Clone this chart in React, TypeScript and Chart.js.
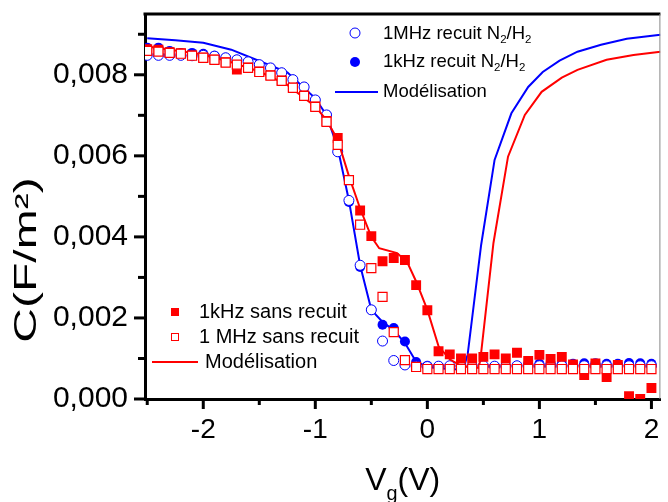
import React, { useEffect, useRef } from 'react';
import { Chart, registerables } from 'chart.js';

Chart.register(...registerables);

const FONT = "'Liberation Sans', Arial, sans-serif";
const BLUE = '#0000ff';
const RED = '#ff0000';

// gate voltage grid (V)
const VOLTS = [
  -2.5, -2.4, -2.3, -2.2, -2.1, -2.0, -1.9, -1.8, -1.7, -1.6,
  -1.5, -1.4, -1.3, -1.2, -1.1, -1.0, -0.9, -0.8, -0.7, -0.6,
  -0.5, -0.4, -0.3, -0.2, -0.1, 0.0, 0.1, 0.2, 0.3, 0.4,
  0.5, 0.6, 0.7, 0.8, 0.9, 1.0, 1.1, 1.2, 1.3, 1.4,
  1.5, 1.6, 1.7, 1.8, 1.9, 2.0,
];

// 1MHz recuit N2/H2 (open blue circles)
const C_1MHZ_RECUIT = [
  0.00848, 0.00848, 0.00848, 0.00848, 0.00847, 0.00848, 0.00846, 0.00842, 0.00837, 0.00832,
  0.00825, 0.00817, 0.00805, 0.00788, 0.0077, 0.00738, 0.00701, 0.0061, 0.0049, 0.0033,
  0.0022, 0.00143, 0.00095, 0.00084, 0.00081, 0.0008, 0.00081, 0.00082, 0.00081, 0.00081,
  0.00082, 0.00081, 0.00081, 0.00082, 0.00082, 0.00082, 0.00082, 0.00082, 0.00082, 0.00082,
  0.00082, 0.00082, 0.00082, 0.00082, 0.00082, 0.00082,
];

// 1kHz recuit N2/H2 (filled blue circles)
const C_1KHZ_RECUIT = [
  0.00867, 0.00867, 0.00859, 0.00854, 0.00854, 0.00852, 0.00847, 0.00842, 0.00837, 0.00832,
  0.00825, 0.00817, 0.00805, 0.00788, 0.0077, 0.00738, 0.00701, 0.0061, 0.00486, 0.00326,
  0.0022, 0.00183, 0.00175, 0.00142, 0.00091, 0.00082, 0.0008, 0.0008, 0.0008, 0.0008,
  0.0008, 0.0008, 0.0008, 0.00082, 0.00087, 0.00087, 0.00088, 0.00087, 0.00087, 0.00088,
  0.00088, 0.00087, 0.00087, 0.00089, 0.00088, 0.00087,
];

// 1kHz sans recuit (filled red squares)
const C_1KHZ_SANS = [
  0.00863, 0.00862, 0.00856, 0.00853, 0.00848, 0.00843, 0.00838, 0.00831, 0.00813, 0.00818,
  0.00808, 0.00799, 0.00786, 0.00769, 0.00749, 0.00722, 0.00686, 0.00644, 0.0054, 0.00465,
  0.00402, 0.0034, 0.00348, 0.00343, 0.00281, 0.00219, 0.00118, 0.0011, 0.001, 0.001,
  0.00104, 0.0011, 0.001, 0.00114, 0.00094, 0.00109, 0.00099, 0.00104, 0.00085, 0.00059,
  0.00088, 0.00054, 0.00084, 0.00007, 0.0, 0.00027,
];

// 1 MHz sans recuit (open red squares)
const C_1MHZ_SANS = [
  0.00859, 0.00857, 0.00854, 0.00852, 0.00847, 0.00842, 0.00837, 0.0083, 0.00825, 0.00817,
  0.00807, 0.00798, 0.00785, 0.00768, 0.00748, 0.00721, 0.00684, 0.00627, 0.0054, 0.0043,
  0.00323, 0.00252, 0.00165, 0.00096, 0.00079, 0.00074, 0.00074, 0.00074, 0.00074, 0.00074,
  0.00074, 0.00074, 0.00074, 0.00074, 0.00074, 0.00074, 0.00074, 0.00074, 0.00074, 0.00074,
  0.00074, 0.00074, 0.00074, 0.00074, 0.00074, 0.00074,
];

// Modélisation (recuit) - blue curve
const MODEL_BLUE_V = [
  -2.5, -2.25, -2.0, -1.75, -1.5, -1.25, -1.0, -0.9, -0.8, -0.7, -0.6, -0.5, -0.4, -0.3,
  -0.2, -0.1, 0.0, 0.1, 0.2, 0.32, 0.36, 0.48, 0.6, 0.75, 0.9, 1.03, 1.18, 1.34, 1.55, 1.78, 2.08,
];
const MODEL_BLUE_C = [
  0.0089, 0.00885, 0.00879, 0.00862, 0.00834, 0.00806, 0.00742, 0.007, 0.0062, 0.0049, 0.0033,
  0.0022, 0.0019, 0.0017, 0.00138, 0.00092, 0.0008, 0.00076, 0.00074, 0.00072, 0.0011, 0.0038,
  0.0059, 0.00705, 0.0077, 0.00807, 0.00835, 0.00857, 0.00874, 0.00889, 0.00899,
];

// Modélisation (sans recuit) - red curve
const MODEL_RED_V = [
  -2.5, -2.25, -2.0, -1.75, -1.5, -1.25, -1.0, -0.9, -0.8, -0.7, -0.6, -0.5, -0.43, -0.27,
  -0.18, -0.1, 0.0, 0.1, 0.2, 0.3, 0.4, 0.46, 0.48, 0.59, 0.72, 0.87, 1.02, 1.2, 1.34, 1.6,
  1.84, 2.08,
];
const MODEL_RED_C = [
  0.0087, 0.0086, 0.0085, 0.00831, 0.00808, 0.00775, 0.00722, 0.00688, 0.0064, 0.0055, 0.0047,
  0.004, 0.00372, 0.0036, 0.00338, 0.0029, 0.0022, 0.0013, 0.00098, 0.00082, 0.00077, 0.00077,
  0.00114, 0.00385, 0.00598, 0.00701, 0.00758, 0.00793, 0.00812, 0.00837, 0.00849, 0.00857,
];

const X_MAJOR = [-2, -1, 0, 1, 2];
const X_MINOR = [-2.5, -1.5, -0.5, 0.5, 1.5];
const Y_MAJOR = [0, 0.002, 0.004, 0.006, 0.008];
const Y_MINOR = [0.001, 0.003, 0.005, 0.007, 0.009];

const pts = (xs: number[], ys: number[]) => xs.map((x, i) => ({ x, y: ys[i] }));

type Part = { t: string; sub?: boolean; sup?: boolean };

function drawRich(ctx: CanvasRenderingContext2D, parts: Part[], x: number, y: number, size: number) {
  let cx = x;
  for (const p of parts) {
    const s = p.sub || p.sup ? size * 0.62 : size;
    ctx.font = `${s}px ${FONT}`;
    const dy = p.sub ? size * 0.3 : p.sup ? -size * 0.35 : 0;
    ctx.fillText(p.t, cx, y + dy);
    cx += ctx.measureText(p.t).width;
  }
  return cx;
}

const overlay = {
  id: 'overlay',
  afterDraw(chart: any) {
    const ctx: CanvasRenderingContext2D = chart.ctx;
    const ca = chart.chartArea;
    const xs = chart.scales.x;
    const ys = chart.scales.y;
    ctx.save();
    // frame
    ctx.strokeStyle = '#000';
    ctx.lineWidth = 3;
    ctx.beginPath();
    ctx.moveTo(ca.left - 1.5, ca.top);
    ctx.lineTo(ca.right, ca.top);
    ctx.stroke();
    ctx.strokeStyle = '#888';
    ctx.lineWidth = 1;
    ctx.beginPath();
    ctx.moveTo(ca.right - 0.5, ca.top);
    ctx.lineTo(ca.right - 0.5, ca.bottom);
    ctx.stroke();
    // ticks
    ctx.strokeStyle = '#000';
    ctx.lineWidth = 3;
    const tick = (x1: number, y1: number, x2: number, y2: number) => {
      ctx.beginPath();
      ctx.moveTo(x1, y1);
      ctx.lineTo(x2, y2);
      ctx.stroke();
    };
    X_MAJOR.forEach((v) => { const p = xs.getPixelForValue(v); tick(p, ca.bottom, p, ca.bottom + 10); });
    X_MINOR.forEach((v) => { const p = xs.getPixelForValue(v); tick(p, ca.bottom, p, ca.bottom + 6); });
    Y_MAJOR.forEach((v) => { const p = ys.getPixelForValue(v); tick(ca.left, p, ca.left - 11, p); });
    Y_MINOR.forEach((v) => { const p = ys.getPixelForValue(v); tick(ca.left, p, ca.left - 7, p); });

    // axis titles
    ctx.fillStyle = '#000';
    ctx.textBaseline = 'alphabetic';
    ctx.textAlign = 'left';
    const xt: Part[] = [{ t: 'V' }, { t: 'g', sub: true }, { t: '(V)' }];
    let w = 0;
    xt.forEach((p) => {
      ctx.font = `${p.sub ? 32 * 0.62 : 32}px ${FONT}`;
      w += ctx.measureText(p.t).width;
    });
    drawRich(ctx, xt, (ca.left + ca.right) / 2 - w / 2, 490, 32);

    ctx.save();
    ctx.translate(36, 260);
    ctx.rotate(-Math.PI / 2);
    ctx.scale(1.55, 1);
    ctx.textAlign = 'center';
    ctx.font = `31px ${FONT}`;
    ctx.fillText('C(F/m²)', 0, 0);
    ctx.restore();

    // top legend
    ctx.textAlign = 'left';
    ctx.textBaseline = 'middle';
    const tl = 18.5;
    ctx.lineWidth = 1;
    ctx.strokeStyle = BLUE;
    ctx.fillStyle = '#fff';
    ctx.beginPath(); ctx.arc(355, 33, 5, 0, Math.PI * 2); ctx.fill(); ctx.stroke();
    ctx.fillStyle = BLUE;
    ctx.beginPath(); ctx.arc(355, 62, 5, 0, Math.PI * 2); ctx.fill();
    ctx.lineWidth = 2;
    ctx.beginPath(); ctx.moveTo(335, 92); ctx.lineTo(378, 92); ctx.stroke();
    ctx.fillStyle = '#000';
    drawRich(ctx, [{ t: '1MHz recuit N' }, { t: '2', sub: true }, { t: '/H' }, { t: '2', sub: true }], 383, 34, tl);
    drawRich(ctx, [{ t: '1kHz recuit N' }, { t: '2', sub: true }, { t: '/H' }, { t: '2', sub: true }], 383, 62, tl);
    drawRich(ctx, [{ t: 'Modélisation' }], 383, 92, tl);

    // bottom legend
    const bl = 20;
    ctx.fillStyle = RED;
    ctx.fillRect(171, 308, 8, 8);
    ctx.strokeStyle = RED;
    ctx.lineWidth = 1;
    ctx.fillStyle = '#fff';
    ctx.fillRect(171.5, 333.5, 7, 7);
    ctx.strokeRect(171.5, 333.5, 7, 7);
    ctx.lineWidth = 2;
    ctx.beginPath(); ctx.moveTo(152, 362); ctx.lineTo(198, 362); ctx.stroke();
    ctx.fillStyle = '#000';
    drawRich(ctx, [{ t: '1kHz sans recuit' }], 199, 312, bl);
    drawRich(ctx, [{ t: '1 MHz sans recuit' }], 199, 337, bl);
    drawRich(ctx, [{ t: 'Modélisation' }], 205, 362, bl);
    ctx.restore();
  },
};

export default function App() {
  const ref = useRef<HTMLCanvasElement | null>(null);
  useEffect(() => {
    if (!ref.current) return;
    const chart = new Chart(ref.current, {
      type: 'scatter',
      data: {
        datasets: [
          {
            label: '1 MHz sans recuit',
            data: pts(VOLTS, C_1MHZ_SANS),
            pointStyle: 'rect',
            pointRadius: 6.4,
            backgroundColor: '#fff',
            borderColor: RED,
            borderWidth: 1.2,
            showLine: false,
            order: 1,
          },
          {
            label: '1kHz sans recuit',
            data: pts(VOLTS, C_1KHZ_SANS),
            pointStyle: 'rect',
            pointRadius: 7,
            backgroundColor: RED,
            borderColor: RED,
            borderWidth: 0,
            showLine: false,
            order: 2,
          },
          {
            label: 'Modélisation sans recuit',
            data: pts(MODEL_RED_V, MODEL_RED_C),
            showLine: true,
            pointRadius: 0,
            borderColor: RED,
            borderWidth: 2,
            tension: 0,
            order: 3,
          },
          {
            label: '1MHz recuit N2/H2',
            data: pts(VOLTS, C_1MHZ_RECUIT),
            pointStyle: 'circle',
            pointRadius: 5,
            backgroundColor: '#fff',
            borderColor: BLUE,
            borderWidth: 1,
            showLine: false,
            order: 4,
          },
          {
            label: '1kHz recuit N2/H2',
            data: pts(VOLTS, C_1KHZ_RECUIT),
            pointStyle: 'circle',
            pointRadius: 5,
            backgroundColor: BLUE,
            borderColor: BLUE,
            borderWidth: 0,
            showLine: false,
            order: 5,
          },
          {
            label: 'Modélisation recuit',
            data: pts(MODEL_BLUE_V, MODEL_BLUE_C),
            showLine: true,
            pointRadius: 0,
            borderColor: BLUE,
            borderWidth: 2,
            tension: 0,
            order: 6,
          },
        ],
      },
      options: {
        responsive: false,
        animation: false,
        devicePixelRatio: 1,
        layout: { padding: { top: 14, right: 1, left: 0, bottom: 0 } },
        plugins: { legend: { display: false }, tooltip: { enabled: false } },
        scales: {
          x: {
            type: 'linear',
            min: -2.52,
            max: 2.08,
            afterFit: (s: any) => { s.height = 103; s.paddingLeft = 0; s.paddingRight = 0; },
            ticks: {
              stepSize: 1,
              includeBounds: false,
              autoSkip: false,
              maxRotation: 0,
              padding: 14,
              color: '#000',
              font: { family: FONT, size: 28 },
              callback: (v: any) => String(v),
            },
            grid: { display: false, drawTicks: false },
            border: { display: true, color: '#000', width: 3 },
          },
          y: {
            type: 'linear',
            min: 0,
            max: 0.0095,
            afterFit: (s: any) => { s.width = 145; s.paddingTop = 0; s.paddingBottom = 0; },
            ticks: {
              stepSize: 0.002,
              includeBounds: false,
              autoSkip: false,
              padding: 17,
              color: '#000',
              font: { family: FONT, size: 30 },
              callback: (v: any) => Number(v).toFixed(3).replace('.', ','),
            },
            grid: { display: false, drawTicks: false },
            border: { display: true, color: '#000', width: 3 },
          },
        },
      },
      plugins: [overlay],
    });
    return () => chart.destroy();
  }, []);
  return (
    <div style={{ position: 'fixed', left: 0, top: 0, width: 668, height: 502, background: '#fff' }}>
      <canvas ref={ref} width={668} height={502} style={{ display: 'block' }} />
    </div>
  );
}
